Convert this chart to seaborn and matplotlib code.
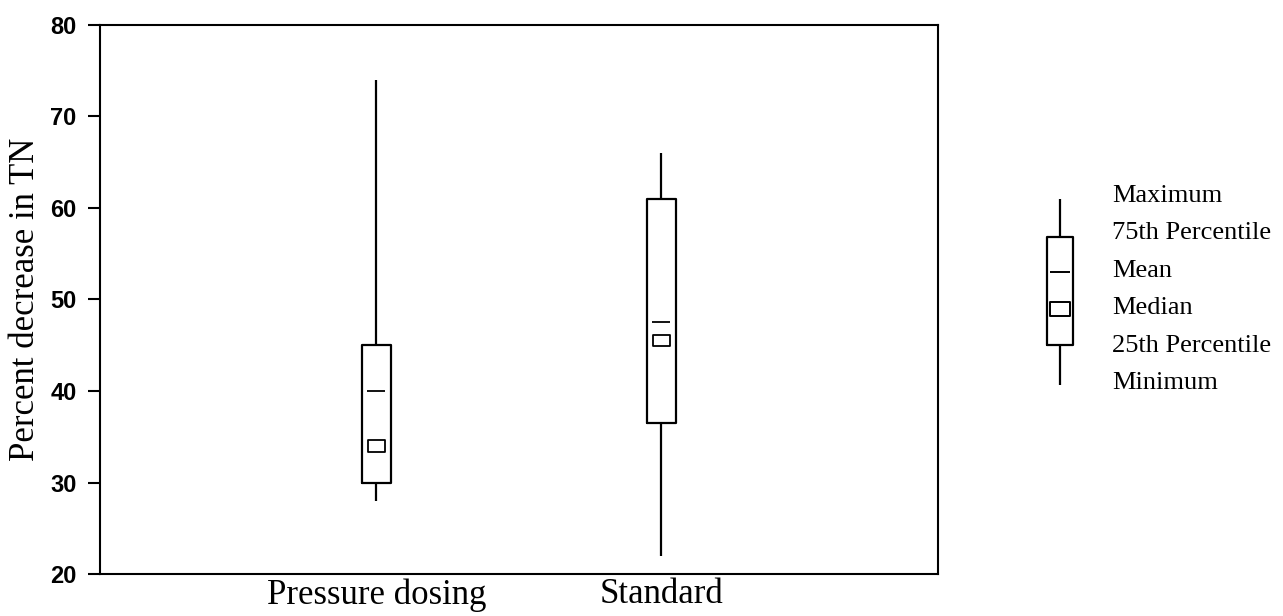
import matplotlib
matplotlib.use("Agg")
import numpy as np
import pandas as pd
import matplotlib.pyplot as plt
import seaborn as sns
from matplotlib.path import Path

# summary statistics
groups = ["Pressure dosing", "Standard"]
minimum = [28, 22]
pct25 = [30, 36.5]
median = [34, 45.5]
pct75 = [45, 61]
maximum = [74, 66]
mean = [40, 47.5]

legend_labels = ["Maximum", "75th Percentile", "Mean", "Median",
                 "25th Percentile", "Minimum"]
# dummy values for the key glyph (min, q25, median, q75, max) and its mean
legend_stats = [0.07, 0.25, 0.414, 0.74, 0.915]
legend_mean = 0.582

sns.set_theme(style="ticks")
plt.rcParams["font.family"] = ["Liberation Serif", "DejaVu Serif"]
plt.rcParams["text.color"] = "black"
plt.rcParams["axes.labelcolor"] = "black"
plt.rcParams["xtick.color"] = "black"
plt.rcParams["ytick.color"] = "black"

# five-number rows -> quartiles come out exactly with 5 points
rows = []
for i, g in enumerate(groups):
    for v in (minimum[i], pct25[i], median[i], pct75[i], maximum[i]):
        rows.append({"group": g, "value": v})
df = pd.DataFrame(rows)
df_mid = pd.DataFrame({"group": groups, "median": median, "mean": mean})

rect = Path([(-1.4, -1), (1.4, -1), (1.4, 1), (-1.4, 1), (-1.4, -1)],
            [Path.MOVETO, Path.LINETO, Path.LINETO, Path.LINETO, Path.CLOSEPOLY])

box_kw = dict(whis=(0, 100), fill=False, color="black", linewidth=1.6,
              showcaps=False, showfliers=False,
              medianprops=dict(visible=False))

fig = plt.figure(figsize=(12.83, 6.16), dpi=100)
ax = fig.add_axes([0.078, 0.068, 0.653, 0.892])

sns.boxplot(data=df, x="group", y="value", width=0.1, ax=ax, **box_kw)
sns.scatterplot(data=df_mid, x="group", y="median", marker=rect, s=140,
                facecolor="none", edgecolor="black", linewidth=1.3, ax=ax, zorder=5)
sns.scatterplot(data=df_mid, x="group", y="mean", marker="_", s=180,
                color="black", linewidth=1.3, ax=ax, zorder=5)

ax.set_xlim(-0.97, 1.97)
ax.set_ylim(20, 80)
ax.set_yticks(range(20, 81, 10))
ax.set_xlabel("")
ax.set_ylabel("Percent decrease in TN", fontsize=25, labelpad=6)
for sp in ax.spines.values():
    sp.set_linewidth(1.5)
    sp.set_color("black")
ax.tick_params(axis="y", length=9, width=1.5, pad=8)
ax.tick_params(axis="x", length=0, pad=3, labelsize=25)
for t in ax.get_yticklabels():
    t.set_fontfamily(["Liberation Sans", "DejaVu Sans"])
    t.set_fontweight("bold")
    t.set_fontsize(17)

# key on the right
lax = fig.add_axes([0.795, 0.3506, 0.205, 0.357])
df_leg = pd.DataFrame({"group": ["key"] * 5, "value": legend_stats})
sns.boxplot(data=df_leg, x="group", y="value", width=0.5, ax=lax, **box_kw)
lax.plot(0, np.median(legend_stats), marker=rect, ms=14, mfc="none",
         mec="black", mew=1.4, zorder=5)
lax.plot(0, legend_mean, marker="_", ms=14, color="black", mew=1.4, zorder=5)
lax.set_xlim(-0.77, 4.29)
lax.set_ylim(0, 1)
lax.axis("off")
ys = np.linspace(0.93, 0.076, len(legend_labels))
for y, lab in zip(ys, legend_labels):
    lax.text(1.0, y, lab, fontsize=19, va="center", ha="left")

fig.savefig("out.png", dpi=100)
